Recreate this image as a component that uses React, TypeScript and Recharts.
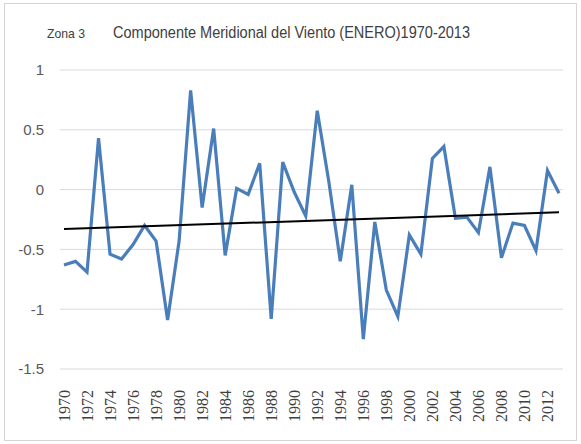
import React from "react";
import { LineChart, Line, XAxis, YAxis, CartesianGrid, ReferenceLine } from "recharts";

const YEARS = [
    "1970", "1971", "1972", "1973", "1974", "1975", "1976", "1977", "1978", "1979",
    "1980", "1981", "1982", "1983", "1984", "1985", "1986", "1987", "1988", "1989",
    "1990", "1991", "1992", "1993", "1994", "1995", "1996", "1997", "1998", "1999",
    "2000", "2001", "2002", "2003", "2004", "2005", "2006", "2007", "2008", "2009",
    "2010", "2011", "2012", "2013",
];
const VIENTO_V = [
    -0.63, -0.60, -0.69, 0.43, -0.54, -0.58, -0.46, -0.30, -0.43, -1.09,
    -0.43, 0.83, -0.15, 0.51, -0.55, 0.01, -0.04, 0.22, -1.08, 0.23,
    -0.02, -0.22, 0.66, 0.07, -0.60, 0.04, -1.25, -0.27, -0.84, -1.06,
    -0.38, -0.54, 0.26, 0.36, -0.24, -0.23, -0.36, 0.19, -0.57, -0.28,
    -0.30, -0.51, 0.16, -0.03,
];
// trend line ends
const TREND_START = -0.33;
const TREND_END = -0.19;
const Y_TICKS = [-1.5, -1, -0.5, 0, 0.5, 1];

const data = YEARS.map((year, i) => ({ year, v: VIENTO_V[i] }));

function YearTick({ x, y, payload }: any) {
    const tx = x + 6;
    const ty = y + 13;
    return (
        <g transform={`translate(${tx},${ty}) rotate(-90)`}>
            <text x={0} y={0} textAnchor="end" fontFamily="'Liberation Serif', 'Times New Roman', serif"
                fontSize={16} fill="#404040">
                {payload.value}
            </text>
        </g>
    );
}

export default function App() {
    return (
        <div style={{ position: "absolute", left: 0, top: 0, width: 581, height: 444, background: "#fff" }}>
            <svg width={581} height={444} style={{ position: "absolute", left: 0, top: 0 }}>
                <rect x={4.5} y={3.5} width={572} height={437} fill="none" stroke="#d4d4d4" />
                <text x={47} y={38} fontFamily="Liberation Sans" fontSize={13} fill="#404040" textLength={38} lengthAdjust="spacingAndGlyphs">Zona 3</text>
                <text x={113} y={38} fontFamily="Liberation Sans" fontSize={16} fill="#404040" textLength={357} lengthAdjust="spacingAndGlyphs">
                    Componente Meridional del Viento (ENERO)1970-2013
                </text>
            </svg>
            <div style={{ position: "absolute", left: 0, top: 0 }}>
                <LineChart width={581} height={444} data={data} margin={{ top: 70, right: 18, bottom: 0, left: 0 }}>
                    <CartesianGrid vertical={false} stroke="#d9d9d9" />
                    <XAxis dataKey="year" interval={1} axisLine={false} tickLine={false} tick={<YearTick />}
                        height={75} padding={{ left: 4, right: 4 }} />
                    <YAxis width={60} domain={[-1.5, 1]} ticks={Y_TICKS} axisLine={false} tickLine={false}
                        tickSize={0} tickMargin={16} tick={{ fontSize: 15, fill: "#595959", fontFamily: "Liberation Sans" }} />
                    <Line dataKey="v" stroke="#4a7ebb" strokeWidth={3.2} dot={false} isAnimationActive={false} />
                    <ReferenceLine segment={[{ x: "1970", y: TREND_START }, { x: "2013", y: TREND_END }]}
                        stroke="#000" strokeWidth={2} />
                </LineChart>
            </div>
        </div>
    );
}
